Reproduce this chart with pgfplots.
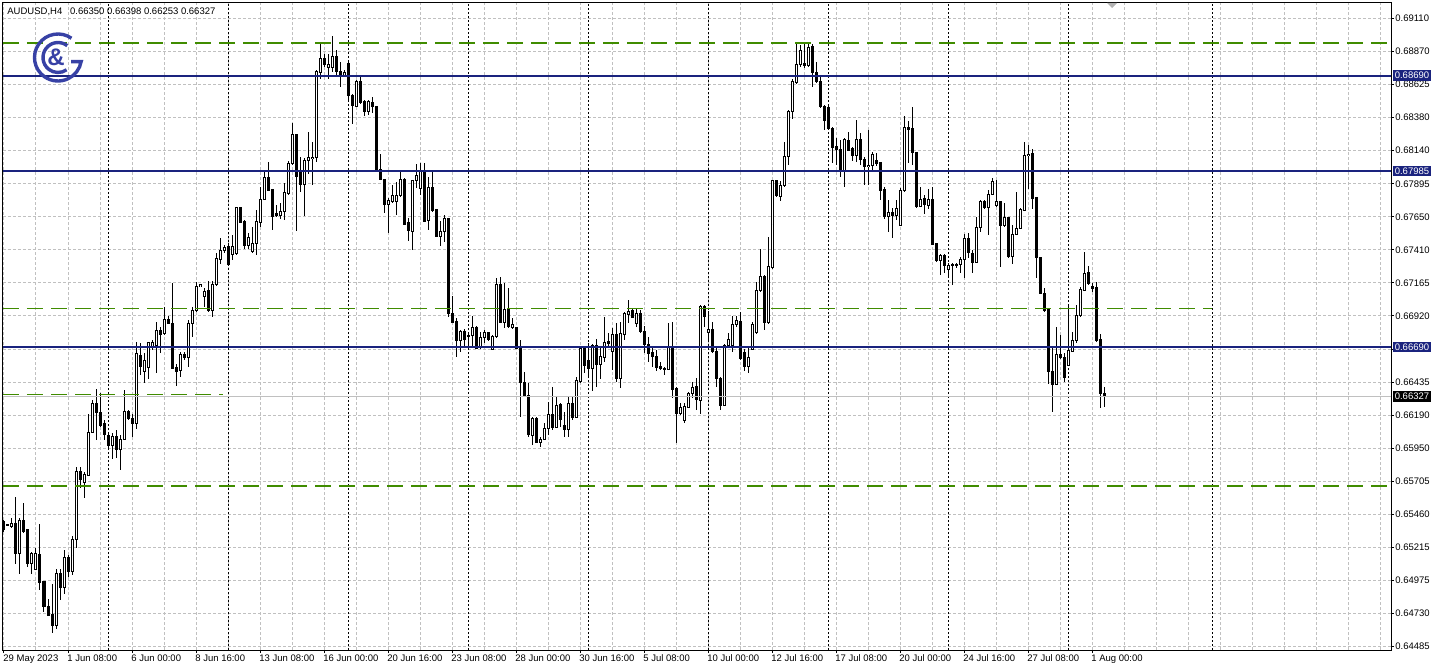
\documentclass[border=0pt]{standalone}
\usepackage{pgfplots}
\pgfplotsset{compat=1.18}
\usepackage{pgfplotstable}
\usepackage{fontspec}
\setmainfont{Liberation Sans}
\definecolor{navy}{RGB}{26,35,126}
\definecolor{lvlgreen}{RGB}{64,140,0}
\definecolor{gridgray}{RGB}{192,192,192}
\definecolor{logoblue}{RGB}{55,65,165}

\pgfplotstableread{
i o h l c
4 0.65404 0.65416 0.65330 0.65347
5 0.65379 0.65384 0.65372 0.65382
6 0.65367 0.65429 0.65362 0.65392
7 0.65392 0.65588 0.65097 0.65171
8 0.65171 0.65429 0.65023 0.65416
9 0.65416 0.65539 0.65318 0.65330
10 0.65347 0.65350 0.65073 0.65097
11 0.65097 0.65183 0.65023 0.65171
12 0.65053 0.65208 0.65048 0.65171
13 0.65166 0.65387 0.64901 0.64955
14 0.64962 0.64965 0.64741 0.64778
15 0.64783 0.64832 0.64709 0.64717
16 0.64722 0.64945 0.64582 0.64643
17 0.64643 0.65060 0.64618 0.65023
18 0.65023 0.65060 0.64827 0.64920
19 0.64920 0.65195 0.64876 0.65141
20 0.65141 0.65159 0.64999 0.65036
21 0.65036 0.65298 0.65011 0.65274
22 0.65274 0.65809 0.65208 0.65772
23 0.65772 0.65809 0.65650 0.65716
24 0.65691 0.65772 0.65576 0.65753
25 0.65748 0.66202 0.65740 0.66062
26 0.66062 0.66300 0.66055 0.66276
27 0.66276 0.66379 0.66005 0.66207
28 0.66207 0.66349 0.66104 0.66116
29 0.66128 0.66153 0.66005 0.66047
30 0.66042 0.66067 0.65944 0.65969
31 0.65969 0.66055 0.65870 0.66030
32 0.66030 0.66084 0.65878 0.65937
33 0.65937 0.66042 0.65785 0.66010
34 0.66010 0.66374 0.66005 0.66214
35 0.66214 0.66231 0.66153 0.66165
36 0.66165 0.66202 0.66030 0.66128
37 0.66128 0.66730 0.66091 0.66644
38 0.66632 0.66723 0.66484 0.66546
39 0.66509 0.66644 0.66423 0.66595
40 0.66541 0.66730 0.66453 0.66723
41 0.66698 0.66742 0.66669 0.66723
42 0.66706 0.66877 0.66497 0.66816
43 0.66816 0.66841 0.66649 0.66787
44 0.66792 0.66988 0.66779 0.66895
45 0.66895 0.66920 0.66860 0.66865
46 0.66865 0.67167 0.66530 0.66534
47 0.66541 0.66570 0.66406 0.66509
48 0.66516 0.66656 0.66472 0.66637
49 0.66637 0.66656 0.66595 0.66615
50 0.66615 0.66890 0.66546 0.66865
51 0.66865 0.66988 0.66767 0.66958
52 0.66958 0.67172 0.66951 0.67140
53 0.67135 0.67155 0.67130 0.67150
54 0.67061 0.67128 0.66988 0.67098
55 0.67111 0.67179 0.66951 0.66963
56 0.66958 0.67179 0.66914 0.67155
57 0.67155 0.67381 0.67140 0.67341
58 0.67339 0.67498 0.67307 0.67405
59 0.67400 0.67442 0.67381 0.67425
60 0.67435 0.67454 0.67295 0.67302
61 0.67376 0.67516 0.67332 0.67435
62 0.67381 0.67724 0.67368 0.67717
63 0.67717 0.67724 0.67602 0.67606
64 0.67614 0.67626 0.67410 0.67437
65 0.67437 0.67528 0.67410 0.67498
66 0.67393 0.67577 0.67386 0.67454
67 0.67454 0.67700 0.67368 0.67614
68 0.67609 0.67872 0.67577 0.67778
69 0.67778 0.67982 0.67773 0.67940
70 0.67940 0.68056 0.67842 0.67847
71 0.67847 0.67852 0.67552 0.67651
72 0.67675 0.67737 0.67651 0.67663
73 0.67662 0.67749 0.67631 0.67692
74 0.67687 0.67896 0.67626 0.67829
75 0.67822 0.68063 0.67810 0.68043
76 0.68043 0.68343 0.68031 0.68257
77 0.68257 0.68264 0.67545 0.67945
78 0.67994 0.68092 0.67834 0.67891
79 0.67886 0.68080 0.67658 0.68068
80 0.68063 0.68274 0.67969 0.68085
81 0.68077 0.68200 0.67883 0.68087
82 0.68087 0.68730 0.68055 0.68718
83 0.68711 0.68932 0.68662 0.68816
84 0.68816 0.68853 0.68755 0.68772
85 0.68748 0.68848 0.68662 0.68772
86 0.68748 0.68986 0.68718 0.68834
87 0.68829 0.68878 0.68681 0.68718
88 0.68721 0.68792 0.68608 0.68694
89 0.68686 0.68730 0.68681 0.68711
90 0.68780 0.68787 0.68497 0.68546
91 0.68546 0.68554 0.68333 0.68468
92 0.68465 0.68657 0.68460 0.68649
93 0.68649 0.68681 0.68485 0.68492
94 0.68502 0.68514 0.68392 0.68428
95 0.68428 0.68509 0.68399 0.68497
96 0.68492 0.68534 0.68411 0.68465
97 0.68460 0.68465 0.67990 0.67994
98 0.67999 0.68112 0.67925 0.67925
99 0.67925 0.67930 0.67675 0.67744
100 0.67741 0.67785 0.67528 0.67770
101 0.67761 0.67883 0.67749 0.67805
102 0.67766 0.67908 0.67662 0.67810
103 0.67805 0.67982 0.67798 0.67925
104 0.67925 0.67933 0.67589 0.67596
105 0.67606 0.67638 0.67473 0.67552
106 0.67545 0.67925 0.67405 0.67920
107 0.67920 0.68036 0.67859 0.67957
108 0.67860 0.68044 0.67811 0.67982
109 0.67982 0.68049 0.67614 0.67619
110 0.67626 0.67941 0.67553 0.67867
111 0.67867 0.67982 0.67688 0.67700
112 0.67705 0.67710 0.67499 0.67504
113 0.67504 0.67619 0.67437 0.67545
114 0.67541 0.67663 0.67467 0.67634
115 0.67634 0.67640 0.66910 0.66934
116 0.66939 0.67069 0.66866 0.66873
117 0.66878 0.66902 0.66620 0.66738
118 0.66738 0.66816 0.66657 0.66809
119 0.66809 0.66821 0.66694 0.66750
120 0.66779 0.66792 0.66694 0.66770
121 0.66774 0.66915 0.66694 0.66836
122 0.66836 0.66846 0.66674 0.66679
123 0.66686 0.66804 0.66676 0.66762
124 0.66762 0.66816 0.66718 0.66799
125 0.66799 0.66804 0.66738 0.66743
126 0.66674 0.66779 0.66669 0.66767
127 0.66767 0.67197 0.66755 0.67155
128 0.67155 0.67209 0.66866 0.66870
129 0.66870 0.67160 0.66829 0.66969
130 0.66969 0.67123 0.66829 0.66841
131 0.66836 0.66902 0.66821 0.66858
132 0.66836 0.66841 0.66674 0.66681
133 0.66681 0.66743 0.66178 0.66431
134 0.66431 0.66509 0.66325 0.66330
135 0.66330 0.66424 0.66031 0.66043
136 0.66043 0.66178 0.65969 0.66166
137 0.66166 0.66178 0.65982 0.65987
138 0.65987 0.66031 0.65957 0.66011
139 0.66011 0.66129 0.66006 0.66092
140 0.66092 0.66288 0.66043 0.66195
141 0.66195 0.66399 0.66080 0.66097
142 0.66097 0.66325 0.66092 0.66264
143 0.66264 0.66276 0.66104 0.66158
144 0.66117 0.66215 0.66031 0.66085
145 0.66085 0.66325 0.66031 0.66276
146 0.66276 0.66330 0.66154 0.66171
147 0.66171 0.66473 0.66166 0.66443
148 0.66436 0.66689 0.66428 0.66681
149 0.66681 0.66694 0.66497 0.66554
150 0.66595 0.66718 0.66460 0.66529
151 0.66534 0.66713 0.66370 0.66701
152 0.66701 0.66750 0.66399 0.66566
153 0.66566 0.66681 0.66453 0.66620
154 0.66615 0.66915 0.66583 0.66726
155 0.66730 0.66792 0.66681 0.66718
156 0.66662 0.66834 0.66522 0.66784
157 0.66784 0.66866 0.66436 0.66458
158 0.66460 0.66873 0.66387 0.66792
159 0.66787 0.66951 0.66743 0.66939
160 0.66932 0.67037 0.66866 0.66951
161 0.66959 0.66976 0.66902 0.66910
162 0.66863 0.66976 0.66836 0.66939
163 0.66934 0.66964 0.66792 0.66804
164 0.66804 0.66846 0.66645 0.66711
165 0.66711 0.66767 0.66583 0.66645
166 0.66649 0.66694 0.66546 0.66620
167 0.66625 0.66669 0.66510 0.66541
168 0.66546 0.66583 0.66522 0.66534
169 0.66527 0.66546 0.66485 0.66534
170 0.66527 0.66866 0.66522 0.66689
171 0.66689 0.66878 0.66313 0.66382
172 0.66384 0.66399 0.65982 0.66203
173 0.66203 0.66276 0.66190 0.66247
174 0.66149 0.66276 0.66129 0.66252
175 0.66247 0.66362 0.66240 0.66350
176 0.66350 0.66436 0.66313 0.66394
177 0.66399 0.66460 0.66226 0.66301
178 0.66300 0.67000 0.66202 0.66992
179 0.66992 0.67000 0.66840 0.66919
180 0.66796 0.66956 0.66730 0.66820
181 0.66820 0.66877 0.66649 0.66656
182 0.66656 0.66680 0.66398 0.66460
183 0.66460 0.66472 0.66226 0.66263
184 0.66263 0.66717 0.66256 0.66705
185 0.66705 0.66791 0.66693 0.66747
186 0.66705 0.66919 0.66656 0.66857
187 0.66857 0.66919 0.66840 0.66889
188 0.66882 0.66951 0.66595 0.66607
189 0.66649 0.66680 0.66516 0.66546
190 0.66550 0.66693 0.66501 0.66614
191 0.66673 0.66877 0.66668 0.66860
192 0.66796 0.67172 0.66786 0.67110
193 0.67110 0.67410 0.67098 0.67208
194 0.67213 0.67221 0.66820 0.66870
195 0.66870 0.67503 0.66860 0.67282
196 0.67277 0.67925 0.67270 0.67915
197 0.67915 0.67925 0.67798 0.67805
198 0.67798 0.67915 0.67768 0.67883
199 0.67881 0.68203 0.67871 0.68092
200 0.68092 0.68436 0.68031 0.68428
201 0.68428 0.68662 0.68374 0.68645
202 0.68637 0.68932 0.68630 0.68772
203 0.68772 0.68915 0.68750 0.68873
204 0.68780 0.68922 0.68748 0.68762
205 0.68762 0.68939 0.68755 0.68897
206 0.68902 0.68922 0.68608 0.68711
207 0.68711 0.68792 0.68632 0.68645
208 0.68645 0.68681 0.68455 0.68465
209 0.68465 0.68473 0.68293 0.68362
210 0.68455 0.68465 0.68289 0.68301
211 0.68301 0.68313 0.68043 0.68161
212 0.68166 0.68227 0.68031 0.68146
213 0.68147 0.68215 0.67945 0.67987
214 0.67987 0.68228 0.67867 0.68220
215 0.68215 0.68277 0.68136 0.68142
216 0.68154 0.68166 0.68063 0.68098
217 0.68100 0.68363 0.68056 0.68220
218 0.68220 0.68265 0.68031 0.68073
219 0.68073 0.68093 0.67884 0.68019
220 0.68019 0.68289 0.67884 0.68031
221 0.68031 0.68129 0.67994 0.68105
222 0.68061 0.68117 0.68024 0.68039
223 0.68048 0.68056 0.67774 0.67842
224 0.67847 0.67872 0.67638 0.67651
225 0.67651 0.67774 0.67540 0.67683
226 0.67683 0.67712 0.67491 0.67658
227 0.67663 0.67774 0.67626 0.67712
228 0.67589 0.67859 0.67582 0.67847
229 0.67842 0.68392 0.67835 0.68309
230 0.68309 0.68358 0.68044 0.68296
231 0.68301 0.68461 0.68031 0.68122
232 0.68122 0.68129 0.67712 0.67724
233 0.67724 0.67867 0.67720 0.67778
234 0.67786 0.67810 0.67675 0.67742
235 0.67737 0.67859 0.67712 0.67778
236 0.67778 0.67872 0.67442 0.67449
237 0.67454 0.67459 0.67319 0.67327
238 0.67327 0.67376 0.67221 0.67368
239 0.67368 0.67376 0.67234 0.67295
240 0.67263 0.67307 0.67209 0.67295
241 0.67302 0.67307 0.67147 0.67295
242 0.67295 0.67312 0.67270 0.67300
243 0.67300 0.67356 0.67234 0.67337
244 0.67337 0.67528 0.67197 0.67491
245 0.67491 0.67528 0.67344 0.67388
246 0.67381 0.67405 0.67234 0.67312
247 0.67312 0.67646 0.67307 0.67572
248 0.67570 0.67773 0.67540 0.67766
249 0.67766 0.67773 0.67712 0.67717
250 0.67717 0.67847 0.67516 0.67815
251 0.67815 0.67938 0.67810 0.67908
252 0.67736 0.67921 0.67724 0.67766
253 0.67761 0.67765 0.67282 0.67584
254 0.67584 0.67749 0.67577 0.67643
255 0.67646 0.67651 0.67344 0.67356
256 0.67356 0.67589 0.67299 0.67520
257 0.67520 0.67830 0.67516 0.67565
258 0.67565 0.67717 0.67560 0.67707
259 0.67700 0.68203 0.67692 0.68105
260 0.68100 0.68178 0.67854 0.68110
261 0.68117 0.68149 0.67707 0.67786
262 0.67790 0.67798 0.67201 0.67349
263 0.67351 0.67356 0.67079 0.67086
264 0.67086 0.67123 0.66951 0.66963
265 0.66975 0.66980 0.66423 0.66509
266 0.66509 0.66693 0.66214 0.66416
267 0.66416 0.66840 0.66411 0.66637
268 0.66637 0.66779 0.66607 0.66612
269 0.66619 0.66644 0.66435 0.66465
270 0.66558 0.67000 0.66553 0.66669
271 0.66661 0.66804 0.66656 0.66742
272 0.66742 0.67000 0.66718 0.66926
273 0.66921 0.67135 0.66914 0.67118
274 0.67110 0.67388 0.67103 0.67233
275 0.67238 0.67287 0.67152 0.67160
276 0.67140 0.67160 0.67098 0.67123
277 0.67130 0.67172 0.66730 0.66742
278 0.66750 0.66786 0.66244 0.66349
279 0.66350 0.66398 0.66253 0.66327
}\candles

\begin{document}
\begin{tikzpicture}[font=\fontsize{4.75}{5.5}\selectfont]
\useasboundingbox (0,0) rectangle (719pt,335.5pt);
\begin{axis}[
  at={(1.5pt,10.5pt)}, anchor=south west,
  scale only axis, width=694pt, height=323.5pt,
  xmin=3.75, xmax=350.75, ymin=0.644593, ymax=0.692242,
  axis line style={black, line width=0.5pt},
  tick style={black, line width=0.5pt},
  tick align=outside,
  major tick length=1.5pt,
  minor tick length=0pt,
  xtick pos=left, ytick pos=right,
  yticklabel pos=right,
  xtick={4,20,...,276},
  xticklabels={29 May 2023,1 Jun 08:00,6 Jun 00:00,8 Jun 16:00,13 Jun 08:00,16 Jun 00:00,20 Jun 16:00,23 Jun 08:00,28 Jun 00:00,30 Jun 16:00,5 Jul 08:00,10 Jul 00:00,12 Jul 16:00,17 Jul 08:00,20 Jul 00:00,24 Jul 16:00,27 Jul 08:00,1 Aug 00:00},
  minor xtick={12,28,...,348},
  extra x ticks={292,308,324,340},
  extra x tick labels={,,,},
  extra x tick style={grid=major, major tick length=0pt},
  ytick={0.644850,0.647284,0.649719,0.652153,0.654587,0.657021,0.659455,0.661890,0.664324,0.666758,0.669192,0.671626,0.674061,0.676495,0.678929,0.681363,0.683797,0.686232,0.688666,0.691100},
  yticklabels={0.64485,0.64730,0.64975,0.65215,0.65460,0.65705,0.65950,0.66190,0.66435,{},0.66920,0.67165,0.67410,0.67650,0.67895,0.68140,0.68380,0.68625,0.68870,0.69110},
  xmajorgrids, xminorgrids, ymajorgrids,
  major grid style={gridgray, line width=0.5pt, dash pattern=on 1.5pt off 1pt},
  minor grid style={gridgray, line width=0.5pt, dash pattern=on 1.5pt off 1pt},
  xticklabel style={anchor=north west, inner sep=0pt, xshift=-0.5pt, yshift=-0.5pt},
  yticklabel style={anchor=west, inner sep=0pt, xshift=0.5pt},
  scaled y ticks=false,
  candle/.style={only marks, mark=*, mark size=0pt, mark options={draw=none, fill=none}, forget plot,
     error bars/.cd, y dir=both, y explicit, error mark=none},
]
% weekly separators
\pgfplotsinvokeforeach{30,60,...,270,306}{
  \draw[black, line width=0.5pt, dash pattern=on 1pt off 1pt] (axis cs:#1,0.644593) -- (axis cs:#1,0.692242);
}
% wicks
\addplot[candle, error bar style={line width=0.5pt, black}]
  table[x=i, y expr={(\thisrow{h}+\thisrow{l})/2}, y error expr={(\thisrow{h}-\thisrow{l})/2}] {\candles};
% bodies (outline / bear fill)
\addplot[candle, error bar style={line width=1.5pt, black}]
  table[x=i, y expr={(\thisrow{o}+\thisrow{c})/2}, y error expr={abs(\thisrow{c}-\thisrow{o})/2+0.000037}] {\candles};
% bull interiors
\addplot[candle, error bar style={line width=0.5pt, white}]
  table[x=i, y expr={(\thisrow{o}+\thisrow{c})/2}, y error expr={(\thisrow{c}>\thisrow{o})*max(0,abs(\thisrow{c}-\thisrow{o})/2-0.000037)}] {\candles};
% level lines
\addplot[gridgray, line width=0.5pt] coordinates {(3.75,0.66327) (350.75,0.66327)};
\addplot[lvlgreen, line width=0.6pt, dash pattern=on 8pt off 4pt] coordinates {(3.75,0.68930) (350.75,0.68930)};
\addplot[lvlgreen, line width=0.6pt, dash pattern=on 8pt off 4pt] coordinates {(3.75,0.66976) (306,0.66976)};
\addplot[lvlgreen, line width=0.6pt, dash pattern=on 8pt off 4pt] coordinates {(3.75,0.66340) (58.75,0.66340)};
\addplot[lvlgreen, line width=0.6pt, dash pattern=on 8pt off 4pt] coordinates {(3.75,0.65667) (350.75,0.65667)};
\addplot[navy, line width=1pt] coordinates {(3.75,0.68690) (350.75,0.68690)};
\addplot[navy, line width=1pt] coordinates {(3.75,0.67985) (350.75,0.67985)};
\addplot[navy, line width=1pt] coordinates {(3.75,0.66690) (350.75,0.66690)};
\coordinate (LA) at (axis cs:350.75,0.68690);
\coordinate (LB) at (axis cs:350.75,0.67985);
\coordinate (LC) at (axis cs:350.75,0.66690);
\coordinate (LD) at (axis cs:350.75,0.66327);
\end{axis}
% price boxes
\tikzset{pbox/.style={anchor=west, inner xsep=0.9pt, inner ysep=0.9pt, text=white, fill=#1}}
\node[pbox=navy] at ([xshift=0.8pt]LA) {0.68690};
\node[pbox=navy] at ([xshift=0.8pt]LB) {0.67985};
\node[pbox=navy] at ([xshift=0.8pt]LC) {0.66690};
\node[pbox=black] at ([xshift=0.8pt]LD) {0.66327};
% title
\node[anchor=west, inner sep=0pt] at (3.5pt,329.5pt) {AUDUSD,H4\hspace{2.6pt} 0.66350 0.66398 0.66253 0.66327};
% chart shift marker
\fill[gray!60] (553.5pt,334pt) -- (558.5pt,334pt) -- (556pt,331.5pt) -- cycle;
% logo
\begin{scope}[logoblue, line width=1.7pt]
  \draw (29pt,306.75pt) ++(55:11.75pt) arc[start angle=55, end angle=350, radius=11.75pt] -- ++(-5pt,0pt);
  \draw (29pt,306.75pt) ++(52:7.5pt) arc[start angle=52, end angle=305, radius=7.5pt];
  \node[text=logoblue, font=\fontsize{12}{12}\selectfont\bfseries, inner sep=0pt] at (28pt,307pt) {\&};
\end{scope}
\end{tikzpicture}
\end{document}
